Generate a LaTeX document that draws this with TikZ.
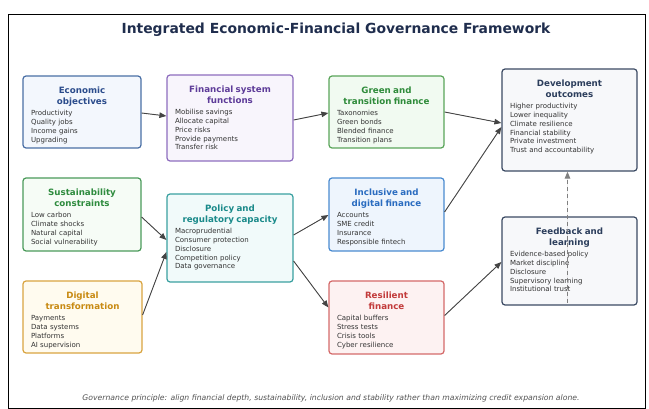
\documentclass[tikz,border=0pt]{standalone}
\usepackage{fontspec}
\setmainfont{DejaVu Sans}
\usetikzlibrary{arrows.meta, calc}

% panel colours: border, fill, heading
\definecolor{econD}{HTML}{4A6FA5}\definecolor{econF}{HTML}{F3F7FD}\definecolor{econT}{HTML}{2B4C8C}
\definecolor{finD}{HTML}{8E6DBE}\definecolor{finF}{HTML}{F8F5FC}\definecolor{finT}{HTML}{5E3C99}
\definecolor{greenD}{HTML}{5AA55A}\definecolor{greenF}{HTML}{F1FAF1}\definecolor{greenT}{HTML}{2E8B3A}
\definecolor{devD}{HTML}{3B4A63}\definecolor{devF}{HTML}{F7F8FA}\definecolor{devT}{HTML}{2C3E5C}
\definecolor{sustD}{HTML}{4A9A5A}\definecolor{sustF}{HTML}{F6FCF6}\definecolor{sustT}{HTML}{2E8B3E}
\definecolor{polD}{HTML}{3AA0A0}\definecolor{polF}{HTML}{F1FAFA}\definecolor{polT}{HTML}{1A8A8A}
\definecolor{inclD}{HTML}{4A8BD0}\definecolor{inclF}{HTML}{EEF5FD}\definecolor{inclT}{HTML}{2A6CC0}
\definecolor{digD}{HTML}{D9A441}\definecolor{digF}{HTML}{FFFBEF}\definecolor{digT}{HTML}{C88A12}
\definecolor{resD}{HTML}{D46A6A}\definecolor{resF}{HTML}{FDF2F2}\definecolor{resT}{HTML}{C23B3B}
\definecolor{bodygray}{HTML}{333333}
\definecolor{arrowgray}{HTML}{444444}
\definecolor{titlenavy}{HTML}{1F2D4D}

% centred bold heading inside a panel
\newcommand{\ptitle}[2]{{\centering\color{#1}\fontsize{8.7}{10.3}\selectfont\bfseries #2\par}\vspace{2.2pt}}

\begin{document}
\begin{tikzpicture}[x=1pt, y=-1pt,
  % text hangs from the top edge; text depth = panel height - 21pt
  panel/.style 2 args={draw=#1, fill=#2, line width=1.2pt, rounded corners=3pt,
    align=left, inner xsep=8pt, inner ysep=3pt, text height=15pt,
    font=\fontsize{7}{8.9}\selectfont, text=bodygray},
  arr/.style={-{Triangle[length=7pt, width=5.5pt]}, line width=0.9pt, draw=arrowgray, fill=arrowgray}
]
\useasboundingbox (0,0) rectangle (649,409);
\draw[line width=0.8pt] (8,14) rectangle (645,408);

\node[font=\fontsize{13.9}{16}\selectfont\bfseries, text=titlenavy] (title) at (336,30)
  {Integrated Economic-Financial Governance Framework};

% Column 1: drivers
\node[panel={econD}{econF}, text width=102pt, text depth=51pt] (econ) at (82,112)
  {\ptitle{econT}{Economic\\objectives}Productivity\\Quality jobs\\Income gains\\Upgrading};
\node[panel={sustD}{sustF}, text width=102pt, text depth=52pt] (sust) at (82,214.5)
  {\ptitle{sustT}{Sustainability\\constraints}Low carbon\\Climate shocks\\Natural capital\\Social vulnerability};
\node[panel={digD}{digF}, text width=103pt, text depth=51pt] (digital) at (82.5,317)
  {\ptitle{digT}{Digital\\transformation}Payments\\Data systems\\Platforms\\AI supervision};

% Column 2: system and policy
\node[panel={finD}{finF}, text width=110pt, text depth=65pt] (fin) at (230,118)
  {\ptitle{finT}{Financial system\\functions}Mobilise savings\\Allocate capital\\Price risks\\Provide payments\\Transfer risk};
\node[panel={polD}{polF}, text width=110pt, text depth=67pt] (policy) at (230,238)
  {\ptitle{polT}{Policy and\\regulatory capacity}Macroprudential\\Consumer protection\\Disclosure\\Competition policy\\Data governance};

% Column 3: finance channels
\node[panel={greenD}{greenF}, text width=99pt, text depth=51pt] (green) at (386.5,112)
  {\ptitle{greenT}{Green and\\transition finance}Taxonomies\\Green bonds\\Blended finance\\Transition plans};
\node[panel={inclD}{inclF}, text width=99pt, text depth=52pt] (incl) at (386.5,214.5)
  {\ptitle{inclT}{Inclusive and\\digital finance}Accounts\\SME credit\\Insurance\\Responsible fintech};
\node[panel={resD}{resF}, text width=99pt, text depth=52pt] (resilient) at (386.5,317.5)
  {\ptitle{resT}{Resilient\\finance}Capital buffers\\Stress tests\\Crisis tools\\Cyber resilience};

% Column 4: outcomes
\node[panel={devD}{devF}, text width=119pt, text depth=81pt] (dev) at (569.5,120)
  {\ptitle{devT}{Development\\outcomes}Higher productivity\\Lower inequality\\Climate resilience\\Financial stability\\Private investment\\Trust and accountability};
\node[panel={devD}{devF}, text width=119pt, text depth=67pt] (feedback) at (569.5,261)
  {\ptitle{devT}{Feedback and\\learning}Evidence-based policy\\Market discipline\\Disclosure\\Supervisory learning\\Institutional trust};

% Links, east side to west side (offsets in px, down positive)
\foreach \from/\fy/\to/\ty in {econ/1/fin/-2, fin/2/green/1, green/0/dev/3, incl/-2.5/dev/7,
    sust/2.5/policy/2, digital/-2/policy/14, policy/-3/incl/0.5, policy/23/resilient/-10,
    resilient/-2/feedback/1}{
  \draw[arr] ($(\from.east)+(0,\fy)$) -- ($(\to.west)+(0,\ty)$);
}

% Feedback loop
\draw[arr, draw=gray, fill=gray, dash pattern=on 4pt off 3pt, line width=1.1pt]
  ($(feedback.south)+(-2,-3)$) -- ($(dev.south)+(-2,0)$);

\node[font=\fontsize{7.7}{9}\selectfont\itshape, text=bodygray!85] (note) at (331,398)
  {Governance principle: align financial depth, sustainability, inclusion and stability rather than maximizing credit expansion alone.};
\end{tikzpicture}
\end{document}
